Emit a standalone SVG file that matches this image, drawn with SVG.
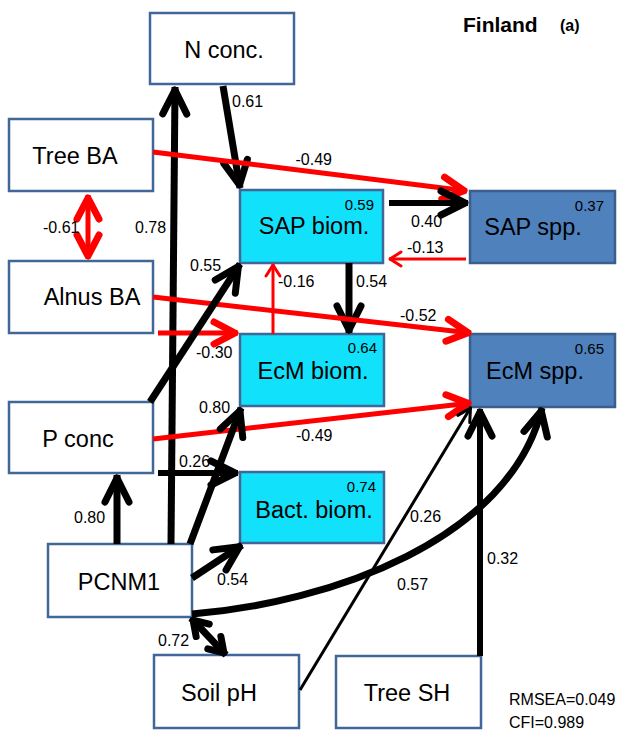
<svg xmlns="http://www.w3.org/2000/svg" width="619" height="733" viewBox="0 0 619 733">
<style>
.n{fill:#fff;stroke:#41679A;stroke-width:2.5}
.c{fill:#11E1FA;stroke:#41679A;stroke-width:2.5}
.d{fill:#4F81BD;stroke:#3A5F8C;stroke-width:2.5}
.t{font-family:"Liberation Sans",Arial,sans-serif;font-size:23.5px;fill:#000;text-anchor:middle}
.s{font-family:"Liberation Sans",Arial,sans-serif;font-size:16px;fill:#000}
.v{font-family:"Liberation Sans",Arial,sans-serif;font-size:15px;fill:#000;text-anchor:end}
.bk{fill:none;stroke:#000;stroke-width:7}
.bm{fill:none;stroke:#000;stroke-width:6}
.bt{fill:none;stroke:#000;stroke-width:3}
.rd{fill:none;stroke:#f00;stroke-width:5}
.rt{fill:none;stroke:#f00;stroke-width:3}
</style>
<defs>
<marker id="mb" markerUnits="userSpaceOnUse" viewBox="-40 -20 50 40" markerWidth="50" markerHeight="40" refX="0" refY="0" orient="auto-start-reverse" overflow="visible">
<path d="M-27,-12 L-3,0 L-27,12" fill="none" stroke="#000" stroke-width="7" stroke-linecap="round" stroke-linejoin="round"/>
</marker>
<marker id="mbs" markerUnits="userSpaceOnUse" viewBox="-40 -20 50 40" markerWidth="50" markerHeight="40" refX="0" refY="0" orient="auto-start-reverse" overflow="visible">
<path d="M-17,-9 L-3,0 L-17,9" fill="none" stroke="#000" stroke-width="7" stroke-linecap="round" stroke-linejoin="round"/>
</marker>
<marker id="mbt" markerUnits="userSpaceOnUse" viewBox="-40 -20 50 40" markerWidth="50" markerHeight="40" refX="0" refY="0" orient="auto" overflow="visible">
<path d="M-14,-7 L-1,0 L-14,7" fill="none" stroke="#000" stroke-width="3" stroke-linecap="round" stroke-linejoin="round"/>
</marker>
<marker id="mr" markerUnits="userSpaceOnUse" viewBox="-40 -20 50 40" markerWidth="50" markerHeight="40" refX="0" refY="0" orient="auto-start-reverse" overflow="visible">
<path d="M-24,-11 L-3,0 L-24,11" fill="none" stroke="#f00" stroke-width="7" stroke-linecap="round" stroke-linejoin="round"/>
</marker>
<marker id="mrt" markerUnits="userSpaceOnUse" viewBox="-40 -20 50 40" markerWidth="50" markerHeight="40" refX="0" refY="0" orient="auto" overflow="visible">
<path d="M-12,-7 L-1,0 L-12,7" fill="none" stroke="#f00" stroke-width="3" stroke-linecap="round" stroke-linejoin="round"/>
</marker>
</defs>
<rect width="619" height="733" fill="#fff"/>
<text x="463" y="32" font-family="Liberation Sans,Arial,sans-serif" font-size="21" font-weight="bold">Finland</text>
<text x="560" y="31" font-family="Liberation Sans,Arial,sans-serif" font-size="16" font-weight="bold">(a)</text>

<g id="n_nconc"><rect class="n" x="150" y="13" width="144" height="71"/><text class="t" x="224" y="58">N conc.</text></g>
<g id="n_treeba"><rect class="n" x="9" y="119" width="144" height="72"/><text class="t" x="75" y="164">Tree BA</text></g>
<g id="n_alnus"><rect class="n" x="9" y="261" width="144" height="72"/><text class="t" x="92" y="305">Alnus BA</text></g>
<g id="n_pconc"><rect class="n" x="9" y="402" width="144" height="71"/><text class="t" x="78" y="447">P conc</text></g>
<g id="n_pcnm"><rect class="n" x="48" y="544" width="144" height="73"/><text class="t" x="119" y="590">PCNM1</text></g>
<g id="n_soil"><rect class="n" x="154" y="655" width="145" height="73"/><text class="t" x="219" y="701">Soil pH</text></g>
<g id="n_treesh"><rect class="n" x="336" y="656" width="145" height="72"/><text class="t" x="407" y="701">Tree SH</text></g>
<g id="n_sapb"><rect class="c" x="240" y="190" width="143" height="73"/><text class="t" x="314" y="234">SAP biom.</text><text class="v" x="374" y="210">0.59</text></g>
<g id="n_ecmb"><rect class="c" x="240" y="334" width="144" height="72"/><text class="t" x="313" y="379">EcM biom.</text><text class="v" x="377" y="353">0.64</text></g>
<g id="n_bact"><rect class="c" x="240" y="472" width="144" height="71"/><text class="t" x="314" y="518">Bact. biom.</text><text class="v" x="376" y="492">0.74</text></g>
<g id="n_saps"><rect class="d" x="470" y="191" width="145" height="72"/><text class="t" x="533" y="235">SAP spp.</text><text class="v" x="604" y="211">0.37</text></g>
<g id="n_ecms"><rect class="d" x="470" y="334" width="145" height="73"/><text class="t" x="535" y="379">EcM spp.</text><text class="v" x="604" y="354">0.65</text></g>

<g id="connectors">
<path class="bk" d="M171,544 L175,87" marker-end="url(#mb)"/>
<path class="bk" d="M223,86 L240,188" marker-end="url(#mb)"/>
<path class="rd" d="M153,152 L467,191" marker-end="url(#mr)"/>
<path class="rd" d="M88,195 L88,259" stroke-width="7" marker-start="url(#mr)" marker-end="url(#mr)"/>
<path class="bm" d="M389,203 L468,203" marker-end="url(#mb)"/>
<path class="rt" d="M466,259 L389,259" marker-end="url(#mrt)"/>
<path class="bk" d="M349,263 L349,333" marker-end="url(#mb)"/>
<path class="rt" d="M273,334 L273,264" marker-end="url(#mrt)"/>
<path class="rd" d="M153,297 L471,333" stroke-width="6" marker-end="url(#mr)"/>
<path class="rd" d="M158,333 L238,333" stroke-width="6" marker-end="url(#mr)"/>
<path class="bk" d="M150,402 L240,264" marker-end="url(#mb)"/>
<path class="rd" d="M153,439 L471,403" marker-end="url(#mr)"/>
<path class="bm" d="M158,473 L238,473" marker-end="url(#mb)"/>
<path class="bk" d="M117,544 L117,475" stroke-width="8" marker-end="url(#mb)"/>
<path class="bk" d="M190,544 L241,408" marker-end="url(#mb)"/>
<path class="bk" d="M192,578 L242,545" marker-end="url(#mb)"/>
<path class="bk" d="M191,618 L226,655" stroke-width="6" marker-start="url(#mbs)" marker-end="url(#mbs)"/>
<path class="bk" d="M192,614 C330,603 510,540 542,408" marker-end="url(#mb)"/>
<path class="bt" d="M300,690 L471,407" marker-end="url(#mbt)"/>
<path class="bm" d="M480,656 L480,409" marker-end="url(#mb)"/>

<text class="s" x="232" y="107">0.61</text>
<text class="s" x="332" y="165" text-anchor="end">-0.49</text>
<text class="s" x="43" y="233">-0.61</text>
<text class="s" x="135" y="233">0.78</text>
<text class="s" x="411" y="227">0.40</text>
<text class="s" x="407" y="253">-0.13</text>
<text class="s" x="190" y="271">0.55</text>
<text class="s" x="278" y="287">-0.16</text>
<text class="s" x="356" y="287">0.54</text>
<text class="s" x="400" y="321">-0.52</text>
<text class="s" x="196" y="358">-0.30</text>
<text class="s" x="199" y="413">0.80</text>
<text class="s" x="296" y="441">-0.49</text>
<text class="s" x="179" y="467">0.26</text>
<text class="s" x="74" y="523">0.80</text>
<text class="s" x="217" y="585">0.54</text>
<text class="s" x="158" y="646">0.72</text>
<text class="s" x="410" y="522">0.26</text>
<text class="s" x="397" y="590">0.57</text>
<text class="s" x="487" y="564">0.32</text>
<text class="s" x="509" y="705">RMSEA=0.049</text>
<text class="s" x="509" y="728">CFI=0.989</text>
</g>
</svg>
